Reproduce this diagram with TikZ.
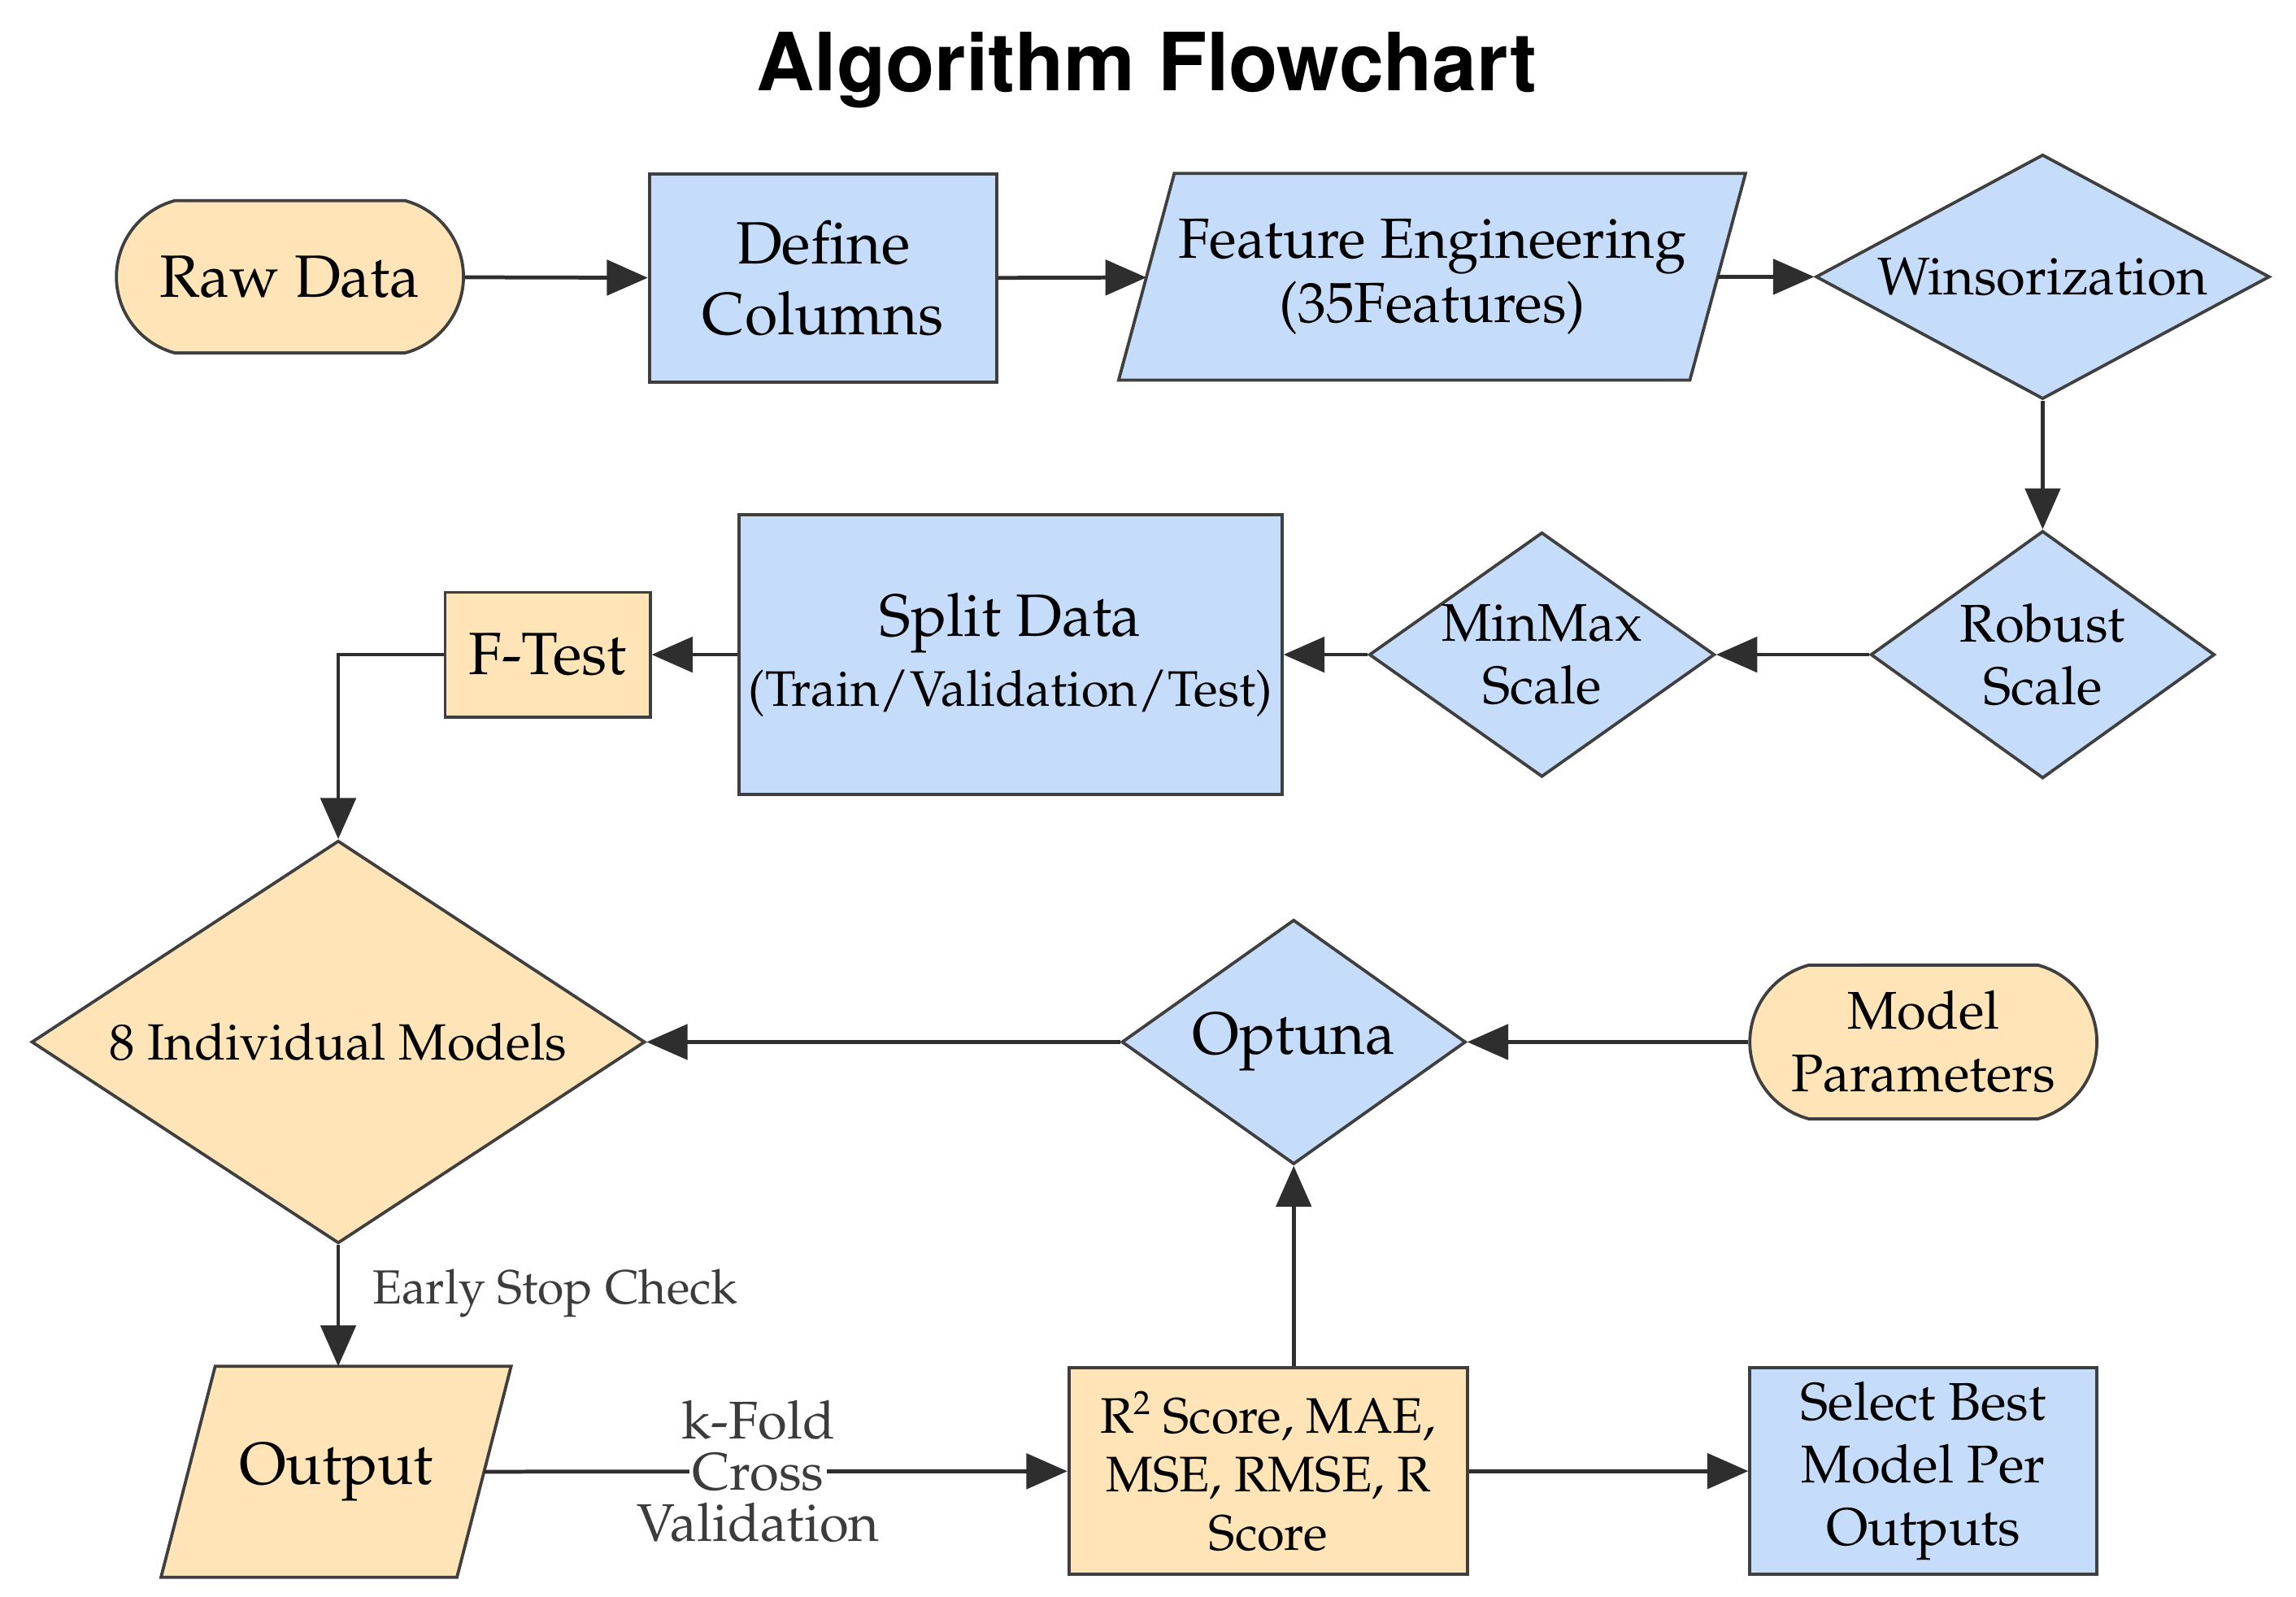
\documentclass[tikz,border=0pt]{standalone}
\usepackage[T1]{fontenc}
\usepackage{mathpazo}
\usepackage{tikz}
\usetikzlibrary{arrows.meta,shapes.geometric,shapes.misc,backgrounds}
\definecolor{FCPeach}{HTML}{FFE4B7}
\definecolor{FCBlue}{HTML}{C6DCFB}
\definecolor{FCLine}{HTML}{2E2E2E}
\definecolor{FCEdge}{HTML}{3F3F3F}
\definecolor{FCText}{HTML}{3C3C3C}

\begin{document}
\begin{tikzpicture}[x=1cm,y=1cm,
  box/.style={draw=FCEdge,line width=.6pt,align=center,inner sep=0pt,font=\fontsize{11.6}{13.6}\selectfont},
  small/.style={font=\fontsize{10.3}{12.2}\selectfont},
  peachbox/.style={box,fill=FCPeach},
  bluebox/.style={box,fill=FCBlue},
  proc/.style={rectangle},
  term/.style={rounded rectangle,rounded rectangle arc length=150},
  io/.style={rectangle,draw=none,fill=none},
  slant/.style={draw=FCEdge,line width=.6pt,fill=#1},
  decide/.style={diamond},
  flow/.style={draw=FCLine,line width=.75pt,-{Triangle[length=2.8mm,width=2.4mm]}},
  note/.style={text=FCText,font=\fontsize{10.3}{10}\selectfont,align=center}]
\path[use as bounding box] (0,0) rectangle (15.68,10.90);
\begin{scope}[on background layer]
\fill[white] (0,0) rectangle (15.68,10.90);
\end{scope}
\node[font=\fontfamily{phv}\fontseries{b}\fontsize{15.6}{18}\selectfont] (title) at (7.83,10.42) {Algorithm Flowchart};
\node[peachbox,term,minimum width=2.37cm,minimum height=1.04cm] (raw) at (1.98,9.01) {Raw Data};
\node[bluebox,proc,minimum width=2.37cm,minimum height=1.42cm] (cols) at (5.62,9.00) {Define\\Columns};
\node[bluebox,io,font=\fontsize{11}{12.4}\selectfont,minimum width=3.88cm,minimum height=1.39cm] (feat) at (9.78,9.01) {Feature Engineering\\(35Features)};
\node[bluebox,decide,small,minimum width=3.10cm,minimum height=1.67cm,aspect=1.86] (wins) at (13.95,9.01) {Winsorization};
\node[bluebox,decide,small,minimum width=2.35cm,minimum height=1.69cm,aspect=1.39] (robust) at (13.95,6.43) {Robust\\Scale};
\node[bluebox,decide,small,minimum width=2.36cm,minimum height=1.67cm,aspect=1.41] (minmax) at (10.53,6.43) {MinMax\\Scale};
\node[bluebox,proc,minimum width=3.71cm,minimum height=1.91cm] (split) at (6.90,6.43) {Split Data\\{\fontsize{9.7}{12}\selectfont(Train/Validation/Test)}};
\node[peachbox,proc,minimum width=1.40cm,minimum height=.85cm] (ftest) at (3.74,6.43) {F-Test};
\node[peachbox,decide,font=\fontsize{9.9}{11}\selectfont,minimum width=4.19cm,minimum height=2.75cm,aspect=1.52] (models) at (2.31,3.785) {8 Individual Models};
\node[bluebox,decide,minimum width=2.35cm,minimum height=1.67cm,aspect=1.41] (optuna) at (8.835,3.785) {Optuna};
\node[peachbox,term,small,minimum width=2.37cm,minimum height=1.05cm] (params) at (13.135,3.785) {Model\\Parameters};
\node[peachbox,io,minimum width=2.00cm,minimum height=1.42cm] (out) at (2.295,0.85) {Output};
\node[peachbox,proc,font=\fontsize{9.7}{11.4}\selectfont,minimum width=2.72cm,minimum height=1.41cm] (scores) at (8.66,0.855) {R\raisebox{.8ex}{\fontsize{6.5}{7}\selectfont 2} Score, MAE,\\MSE, RMSE, R\\Score};
\node[bluebox,proc,small,minimum width=2.37cm,minimum height=1.41cm] (best) at (13.135,0.855) {Select Best\\Model Per\\Outputs};
\begin{scope}[on background layer]
\draw[slant=FCBlue] ([xshift=-.19cm]feat.south west) -- ([xshift=-.19cm]feat.south east) -- ([xshift=.19cm]feat.north east) -- ([xshift=.19cm]feat.north west) -- cycle;
\draw[slant=FCPeach] ([xshift=-.185cm]out.south west) -- ([xshift=-.185cm]out.south east) -- ([xshift=.185cm]out.north east) -- ([xshift=.185cm]out.north west) -- cycle;
\end{scope}
\draw[flow] (raw) -- (cols);
\draw[flow] (cols) -- (feat);
\draw[flow] (feat) -- (wins);
\draw[flow] (wins) -- (robust);
\draw[flow] (robust) -- (minmax);
\draw[flow] (minmax) -- (split);
\draw[flow] (split) -- (ftest);
\draw[flow] (ftest.west) -| (models.north);
\draw[flow] (params) -- (optuna);
\draw[flow] (optuna) -- (models);
\draw[flow] (models.south) -- node[note,font=\fontsize{9.3}{10}\selectfont,right=3pt,pos=.4] {Early Stop Check} (models.south |- out.north);
\draw[flow] (out) -- node[note,pos=.47,inner sep=0pt] {k-Fold\\{\setlength{\fboxsep}{.6pt}\colorbox{white}{Cross}}\\Validation} (scores);
\draw[flow] (optuna.south |- scores.north) -- (optuna.south);
\draw[flow] (scores) -- (best);
\end{tikzpicture}
\end{document}
